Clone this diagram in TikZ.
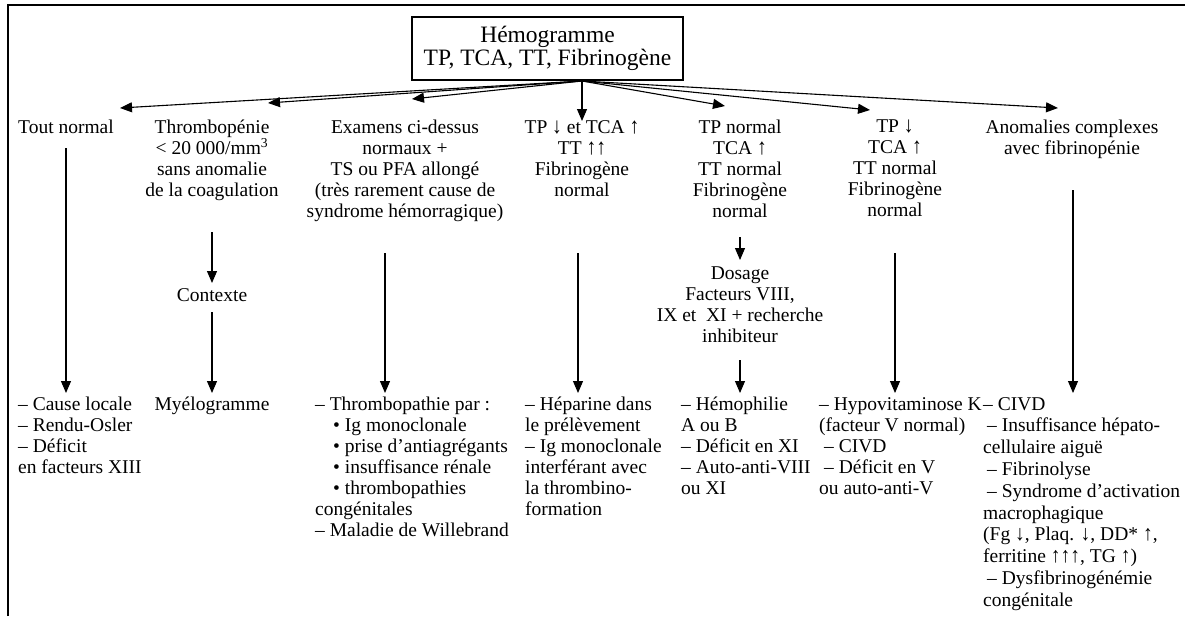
\documentclass[tikz,border=0pt]{standalone}
\usepackage{fontspec}
\setmainfont{Liberation Serif}
\usetikzlibrary{arrows.meta}
% tall thin arrows used inside the labels
\newcommand{\arscale}{1.15}
\newcommand{\upar}{\scalebox{1}[\arscale]{↑}}
\newcommand{\dnar}{\scalebox{1}[\arscale]{↓}}
\begin{document}
\begin{tikzpicture}[x=1pt,y=-1pt,
  txt/.style={font=\fontsize{19.5}{21}\selectfont, inner sep=0pt, align=center, anchor=north},
  lst/.style={font=\fontsize{19.5}{21}\selectfont, inner sep=0pt, align=left, anchor=north west},
  arr/.style={-{Triangle[length=12pt,width=10pt]}, line width=1.1pt},
  frame/.style={line width=1.6pt}]
\useasboundingbox (0,0) rectangle (1185,616);
% outer frame (top and left edges)
\draw[frame] (8,616) -- (8,5) -- (1185,5);

% root box
\node[draw, line width=1.1pt, minimum width=271pt, minimum height=63pt, inner sep=0pt,
      align=center, font=\fontsize{23.5}{23}\selectfont] (top) at (547.5,48.5)
      {Hémogramme\\TP, TCA, TT, Fibrinogène};
\coordinate (o) at (582,81);

% first-level results
\node[txt] (c1) at (66,120) {Tout normal};
\node[txt] (c2) at (212,120) {Thrombopénie\\< 20 000/mm\textsuperscript{3}\\sans anomalie\\de la coagulation};
\node[txt] (c3) at (405,120) {Examens ci-dessus\\normaux +\\TS ou PFA allongé\\(très rarement cause de\\syndrome hémorragique)};
\node[txt] (c4) at (582,120) {TP \dnar{} et TCA \upar\\TT \upar\upar\\Fibrinogène\\normal};
\node[txt] (c5) at (740,120) {TP normal\\TCA \upar\\TT normal\\Fibrinogène\\normal};
\node[txt] (c6) at (895,120) {TP \dnar\\TCA \upar\\TT normal\\Fibrinogène\\normal};
\node[txt] (c7) at (1072,120) {Anomalies complexes\\avec fibrinopénie};

% arrow tips below the root box
\coordinate (t1) at (120,108);
\coordinate (t2) at (268,103);
\coordinate (t3) at (412,99);
\coordinate (t4) at (582,121);
\coordinate (t5) at (725,106);
\coordinate (t6) at (870,110);
\coordinate (t7) at (1058,108);
\foreach \i in {1,...,7} \draw[arr] (o) -- (t\i);

% intermediate steps
\node[txt] (ctx) at (212,288) {Contexte};
\node[txt] (dos) at (740,267) {Dosage\\Facteurs VIII,\\IX et~ XI + recherche\\inhibiteur};

% final results
\node[lst] (b1) at (18,397) {– Cause locale\\– Rendu-Osler\\– Déficit\\en facteurs XIII};
\node[txt] (b2) at (212,397) {Myélogramme};
\node[lst] (b3) at (315,397) {– Thrombopathie par :\\\hspace{18pt}• Ig monoclonale\\\hspace{18pt}• prise d’antiagrégants\\\hspace{18pt}• insuffisance rénale\\\hspace{18pt}• thrombopathies\\congénitales\\– Maladie de Willebrand};
\node[lst] (b4) at (525,397) {– Héparine dans\\le prélèvement\\– Ig monoclonale\\interférant avec\\la thrombino-\\formation};
\node[lst] (b5) at (681,397) {– Hémophilie\\A ou B\\– Déficit en XI\\– Auto-anti-VIII\\ou XI};
\node[lst] (b6) at (819,397) {– Hypovitaminose K\\(facteur V normal)\\\hspace{5pt}– CIVD\\\hspace{5pt}– Déficit en V\\ou auto-anti-V};
\node[lst, font=\fontsize{19.5}{21.8}\selectfont\renewcommand{\arscale}{1.1}] (b7) at (983,397)
  {– CIVD\\\hspace{4pt}– Insuffisance hépato-\\cellulaire aiguë\\\hspace{4pt}– Fibrinolyse\\\hspace{4pt}– Syndrome d’activation\\macrophagique\\(Fg \dnar, Plaq. \dnar, DD* \upar,\\ferritine \upar\upar\upar, TG \upar)\\\hspace{4pt}– Dysfibrinogénémie\\congénitale};

% vertical connectors
\coordinate (s1) at (66,148);   \coordinate (e1) at (66,393);
\coordinate (s2) at (212,232);  \coordinate (e2) at (212,283);
\coordinate (s2b) at (212,312); \coordinate (e2b) at (212,393);
\coordinate (s3) at (385,253);  \coordinate (e3) at (385,393);
\coordinate (s4) at (578,253);  \coordinate (e4) at (578,393);
\coordinate (s5) at (740,237);  \coordinate (e5) at (740,260);
\coordinate (s5b) at (740,360); \coordinate (e5b) at (740,393);
\coordinate (s6) at (895,253);  \coordinate (e6) at (895,393);
\coordinate (s7) at (1073,190); \coordinate (e7) at (1073,393);
\foreach \a/\b in {s1/e1,s2/e2,s2b/e2b,s3/e3,s4/e4,s5/e5,s5b/e5b,s6/e6,s7/e7}
  \draw[arr] (\a) -- (\b);
\end{tikzpicture}
\end{document}
